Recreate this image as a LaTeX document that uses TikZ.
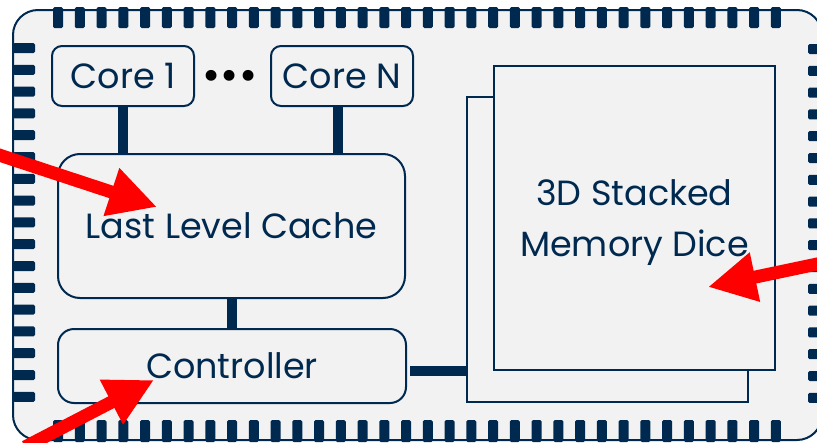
\documentclass[tikz,border=0pt]{standalone}
\usepackage{fontspec}
\setmainfont{Poppins}
\usepackage{tikz}
\usetikzlibrary{arrows.meta}
\definecolor{chipnavy}{RGB}{0,41,79}
\definecolor{chipgray}{RGB}{242,242,242}
\definecolor{pointred}{RGB}{255,0,0}

\begin{document}
\begin{tikzpicture}[x=1pt,y=-1pt,
        box/.style = {draw=chipnavy, line width=2pt,
            fill=chipgray, text=chipnavy,
            rounded corners=#1, inner sep=0pt,
            font=\fontsize{35}{50}\selectfont},
        die/.style = {draw=chipnavy, line width=1.5pt,
            fill=chipgray, inner sep=0pt},
        bus/.style = {chipnavy, line width=10pt},
        pin/.style = {fill=chipnavy, rounded corners=1.5pt},
        pointer/.style = {pointred, line width=13pt,
            -{Triangle[length=48pt,width=47pt]}}]

        \useasboundingbox (0,0) rectangle (817,442);
        \clip (0,0) rectangle (817,442);

        % Chip
        \draw[chipnavy, line width=2pt, fill=chipgray, rounded corners=25pt] (13,10) rectangle (822,440);

        % Pins
        \foreach \i in {0,...,33} {
            \fill[pin] (58+21.75*\i-5,7) rectangle (58+21.75*\i+5,28);
            \fill[pin] (58+21.75*\i-5,420) rectangle (58+21.75*\i+5,442);
        }
        \foreach \i in {0,...,16} {
            \fill[pin] (13,48+21.8*\i-5) rectangle (35,48+21.8*\i+5);
            \fill[pin] (808,49+21.8*\i-5) rectangle (830,49+21.8*\i+5);
        }

        % Cores
        \node[box=10pt, minimum width=142pt, minimum height=60pt] (core1) at (123,76) {Core 1};
        \node[box=10pt, minimum width=142pt, minimum height=60pt] (coren) at (342,76) {Core N};
        \node[font=\fontsize{44}{44}\selectfont, inner sep=0pt] (dots) at (230,80) {•••};

        % Cache and controller
        \node[box=22pt, minimum width=347pt, minimum height=144pt] (llc) at (231.5,226) {Last Level Cache};
        \node[box=16pt, minimum width=348pt, minimum height=74pt] (ctrl) at (232,366) {Controller};

        % Memory dice
        \node[die, minimum width=281pt, minimum height=305pt] (dieback) at (607.5,249.5) {};
        \node[die, minimum width=281pt, minimum height=304pt,
            label={[text=chipnavy, align=center, yshift=-5pt,
                font=\fontsize{35}{51}\selectfont]center:3D Stacked\\Memory Dice}] (diefront) at (634.5,218) {};

        % Buses
        \draw[bus] (core1.south) -- (core1.south |- llc.north);
        \draw[bus] ([xshift=-4pt]coren.south) -- ([xshift=-4pt]coren.south |- llc.north);
        \draw[bus] (llc.south) -- (llc.south |- ctrl.north);
        \draw[bus] ([xshift=3pt,yshift=-5pt]ctrl.east) -- ([yshift=-5pt]ctrl.east -| dieback.west);

        % Pointers
        \coordinate (llcfrom) at (-4,154);
        \coordinate (llcto) at (157,207);
        \coordinate (ctrlfrom) at (25,447);
        \coordinate (ctrlto) at (154,380);
        \coordinate (diefrom) at (822,263);
        \coordinate (dieto) at (708,287);
        \draw[pointer] (llcfrom) -- (llcto);
        \draw[pointer] (ctrlfrom) -- (ctrlto);
        \draw[pointer] (diefrom) -- (dieto);
    \end{tikzpicture}
\end{document}
